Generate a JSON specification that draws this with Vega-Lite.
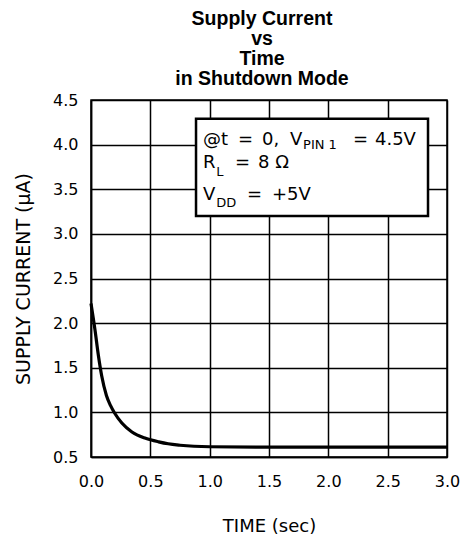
{
  "$schema": "https://vega.github.io/schema/vega-lite/v6.json",
  "width": 356,
  "height": 357,
  "autosize": {"type": "none"},
  "padding": {"left": 91, "top": 100, "right": 14, "bottom": 78},
  "background": "white",
  "title": {
    "text": ["Supply Current", "vs", "Time", "in Shutdown Mode"],
    "font": "Liberation Sans",
    "fontSize": 19.5,
    "fontWeight": "bold",
    "lineHeight": 20,
    "color": "black",
    "anchor": "middle",
    "offset": 3,
    "dx": -7
  },
  "config": {
    "view": {"stroke": "black", "strokeWidth": 1.5},
    "axis": {
      "labelFont": "DejaVu Sans",
      "titleFont": "DejaVu Sans",
      "labelFontSize": 16,
      "titleFontSize": 18,
      "titleFontWeight": "normal",
      "labelColor": "black",
      "titleColor": "black",
      "labelFlush": false,
      "grid": true,
      "gridColor": "black",
      "gridOpacity": 1,
      "gridWidth": 1.5,
      "domainColor": "black",
      "domainWidth": 1.5,
      "ticks": false
    }
  },
  "datasets": {
    "curve": [
      {"t": 0.0, "i": 2.22},
      {"t": 0.034, "i": 1.92},
      {"t": 0.062, "i": 1.64},
      {"t": 0.09, "i": 1.41},
      {"t": 0.13, "i": 1.19},
      {"t": 0.165, "i": 1.075},
      {"t": 0.2, "i": 0.99},
      {"t": 0.26, "i": 0.88},
      {"t": 0.345, "i": 0.78},
      {"t": 0.46, "i": 0.71},
      {"t": 0.57, "i": 0.67},
      {"t": 0.65, "i": 0.648},
      {"t": 0.75, "i": 0.632},
      {"t": 1.0, "i": 0.615},
      {"t": 1.6, "i": 0.61},
      {"t": 2.2, "i": 0.61},
      {"t": 3.0, "i": 0.61}
    ],
    "box": [{"x1": 0.885, "x2": 2.84, "y1": 4.29, "y2": 3.2}],
    "notes": [
      {"x": 0.944, "y": 4.052, "txt": "@t", "kind": "main"},
      {"x": 1.239, "y": 4.052, "txt": "=", "kind": "main"},
      {"x": 1.441, "y": 4.052, "txt": "0,", "kind": "main"},
      {"x": 1.677, "y": 4.052, "txt": "V", "kind": "main"},
      {"x": 1.787, "y": 3.996, "txt": "PIN 1", "kind": "sub"},
      {"x": 2.208, "y": 4.052, "txt": "=", "kind": "main"},
      {"x": 2.393, "y": 4.052, "txt": "4.5V", "kind": "main"},
      {"x": 0.944, "y": 3.794, "txt": "R", "kind": "main"},
      {"x": 1.055, "y": 3.693, "txt": "L", "kind": "sub"},
      {"x": 1.213, "y": 3.794, "txt": "=", "kind": "main"},
      {"x": 1.407, "y": 3.794, "txt": "8 Ω", "kind": "main"},
      {"x": 0.944, "y": 3.436, "txt": "V", "kind": "main"},
      {"x": 1.055, "y": 3.346, "txt": "DD", "kind": "sub"},
      {"x": 1.315, "y": 3.436, "txt": "=", "kind": "main"},
      {"x": 1.525, "y": 3.436, "txt": "+5V", "kind": "main"}
    ]
  },
  "layer": [
    {
      "data": {"name": "curve"},
      "mark": {"type": "line", "color": "black", "strokeWidth": 3.2, "interpolate": "monotone"},
      "encoding": {
        "x": {
          "field": "t", "type": "quantitative",
          "scale": {"domain": [0, 3]},
          "axis": {"values": [0, 0.5, 1, 1.5, 2, 2.5, 3], "format": ".1f", "title": "TIME (sec)", "labelPadding": 16, "titlePadding": 28}
        },
        "y": {
          "field": "i", "type": "quantitative",
          "scale": {"domain": [0.5, 4.5]},
          "axis": {"values": [0.5, 1, 1.5, 2, 2.5, 3, 3.5, 4, 4.5], "format": ".1f", "title": "SUPPLY CURRENT (μA)", "titleFontSize": 19, "labelPadding": 13, "titlePadding": 19}
        }
      }
    },
    {
      "data": {"name": "box"},
      "mark": {"type": "rect", "fill": "white", "stroke": "black", "strokeWidth": 2.5},
      "encoding": {
        "x": {"field": "x1", "type": "quantitative"},
        "x2": {"field": "x2"},
        "y": {"field": "y1", "type": "quantitative"},
        "y2": {"field": "y2"}
      }
    },
    {
      "data": {"name": "notes"},
      "transform": [{"filter": "datum.kind == 'main'"}],
      "mark": {"type": "text", "align": "left", "baseline": "middle", "font": "DejaVu Sans", "fontSize": 18, "color": "black"},
      "encoding": {
        "x": {"field": "x", "type": "quantitative"},
        "y": {"field": "y", "type": "quantitative"},
        "text": {"field": "txt"}
      }
    },
    {
      "data": {"name": "notes"},
      "transform": [{"filter": "datum.kind == 'sub'"}],
      "mark": {"type": "text", "align": "left", "baseline": "middle", "font": "DejaVu Sans", "fontSize": 13, "color": "black"},
      "encoding": {
        "x": {"field": "x", "type": "quantitative"},
        "y": {"field": "y", "type": "quantitative"},
        "text": {"field": "txt"}
      }
    }
  ]
}
